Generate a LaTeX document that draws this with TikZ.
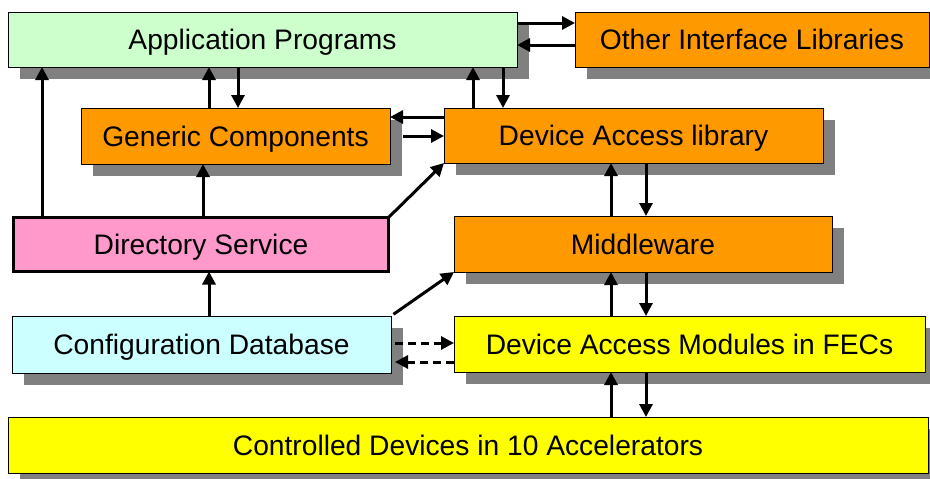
\documentclass[tikz,border=0pt]{standalone}
\usepackage{fontspec}
\setmainfont{Liberation Sans}
\usetikzlibrary{arrows.meta,shadows}
\definecolor{cgreen}{HTML}{CCFFCC}
\definecolor{corange}{HTML}{FF9900}
\definecolor{cpink}{HTML}{FF99CC}
\definecolor{ccyan}{HTML}{CCFFFF}
\definecolor{cyellow}{HTML}{FFFF00}
\definecolor{cshadow}{HTML}{808080}
\begin{document}
\begin{tikzpicture}[x=1pt,y=-1pt,
  txt/.style={inner sep=0pt,outer sep=0pt,text height=20.2pt,text depth=0pt,
    font=\fontsize{28.2}{34}\selectfont},
  box/.style={txt,draw=black,line width=1pt,
    drop shadow={shadow xshift=12pt,shadow yshift=-12pt,fill=cshadow,opacity=1}},
  plainbox/.style={txt,draw=black,line width=3.5pt},
  arr/.style={line width=3pt,-{Triangle[length=13pt,width=13pt]}},
  darr/.style={arr,dash pattern=on 8pt off 5pt}]
\useasboundingbox (0,0) rectangle (930,479);
% boxes
\node[box,fill=cgreen,minimum width=509pt,minimum height=55pt] (app) at (262.5,39.5) {Application Programs};
\node[box,fill=corange,minimum width=354pt,minimum height=55pt] (oil) at (752,39.5) {Other Interface Libraries};
\node[box,fill=corange,minimum width=309pt,minimum height=56pt] (gc) at (235.5,136) {Generic Components};
\node[box,fill=corange,minimum width=379pt,minimum height=55pt] (dal) at (633.5,135.5) {Device Access library};
\node[plainbox,fill=cpink,minimum width=375pt,minimum height=54pt] (ds) at (201,244.5) {Directory Service};
\node[box,fill=corange,minimum width=378pt,minimum height=56pt] (mw) at (643,244) {Middleware};
\node[box,fill=ccyan,minimum width=379pt,minimum height=57pt] (cdb) at (201.5,344.5) {Configuration Database};
\node[box,fill=cyellow,minimum width=471pt,minimum height=56pt] (dam) at (689.5,344) {Device Access Modules in FECs};
\node[box,fill=cyellow,minimum width=920pt,minimum height=56pt] (cd) at (468,445) {Controlled Devices in 10 Accelerators};
% helper coordinates for connector positions
\coordinate (x42) at (42,0);
\coordinate (x203) at (203,0);
\coordinate (x209) at (209,0);
\coordinate (x238) at (238,0);
\coordinate (x473) at (473,0);
\coordinate (x503) at (503,0);
\coordinate (x611) at (611,0);
\coordinate (x646) at (646,0);
\coordinate (y23) at (0,23);
\coordinate (y45) at (0,45);
\coordinate (y117) at (0,117);
\coordinate (y343) at (0,343);
\coordinate (y362) at (0,362);
% connectors
\draw[arr] (ds.north -| x42) -- (app.south -| x42);
\draw[arr] (gc.north -| x209) -- (app.south -| x209);
\draw[arr] (app.south -| x238) -- (gc.north -| x238);
\draw[arr] (ds.north -| x203) -- (gc.south -| x203);
\draw[arr] (dal.north -| x473) -- (app.south -| x473);
\draw[arr] (app.south -| x503) -- (dal.north -| x503);
\draw[arr] (app.east |- y23) -- (oil.west |- y23);
\draw[arr] (oil.west |- y45) -- (app.east |- y45);
\draw[arr] (dal.west |- y117) -- (gc.east |- y117);
\draw[arr,shorten <=13pt] (gc.east) -- (dal.west |- gc.east);
\draw[arr] (ds.north east) -- (dal.south west);
\draw[arr] (mw.north -| x611) -- (dal.south -| x611);
\draw[arr] (dal.south -| x646) -- (mw.north -| x646);
\draw[arr] (cdb.north -| x209) -- (ds.south -| x209);
\draw[arr,shorten <=3pt] (cdb.north east) -- (mw.south west);
\draw[darr,shorten <=4pt] (cdb.east |- y343) -- (dam.west |- y343);
\draw[darr,shorten >=4pt] (dam.west |- y362) -- (cdb.east |- y362);
\draw[arr] (dam.north -| x611) -- (mw.south -| x611);
\draw[arr] (mw.south -| x646) -- (dam.north -| x646);
\draw[arr] (cd.north -| x611) -- (dam.south -| x611);
\draw[arr] (dam.south -| x646) -- (cd.north -| x646);
\end{tikzpicture}
\end{document}
